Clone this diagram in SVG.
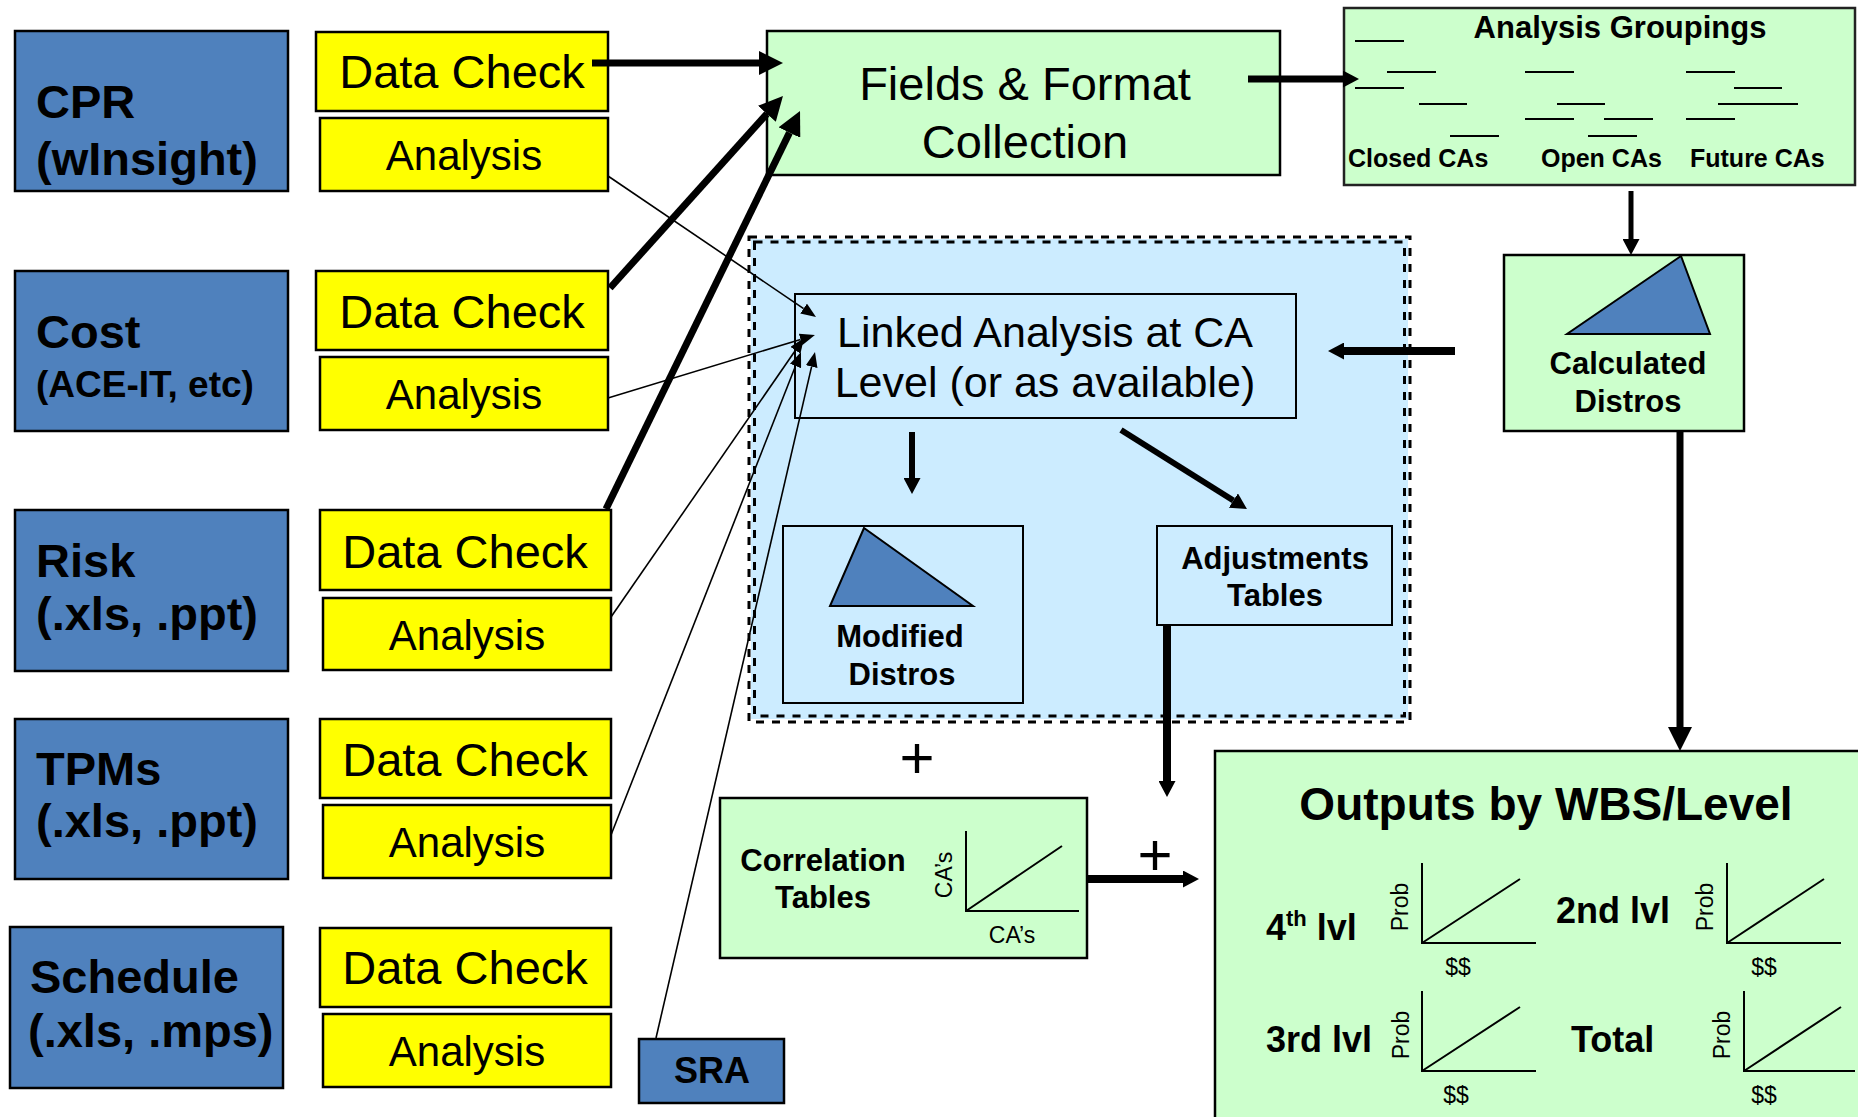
<svg xmlns="http://www.w3.org/2000/svg" width="1858" height="1117" viewBox="0 0 1858 1117">
  <style>
    text { font-family: "Liberation Sans", Arial, sans-serif; fill: #000; }
    .src rect { fill: #4F81BD; stroke: #000; stroke-width: 2.5; }
    .src text { font-weight: bold; font-size: 47px; }
    .chk rect { fill: #FFFF00; stroke: #000; stroke-width: 2.5; }
    .chk text { font-size: 47px; text-anchor: middle; }
    .ana text { font-size: 42px; }
    .green { fill: #CCFFCC; stroke: #000; stroke-width: 2.5; }
    .lblue { fill: #CCECFF; stroke: #000; stroke-width: 2; }
    .tri { fill: #4F81BD; stroke: #000; stroke-width: 2; }
    .bold30 { font-weight: bold; font-size: 31px; text-anchor: middle; }
    .axis { fill: none; stroke: #000; stroke-width: 2; }
    .axlbl { font-size: 23px; text-anchor: middle; }
    .lvl { font-weight: bold; font-size: 36px; }
    .dash { fill: none; stroke: #000; stroke-width: 3; stroke-dasharray: 8 8; }
    .thick { stroke: #000; fill: none; }
    .thin { stroke: #000; stroke-width: 1.6; fill: none; marker-end: url(#ah-sm); }
    .plus { font-size: 60px; text-anchor: middle; }
  </style>
  <defs>
    <marker id="ah-lg" markerUnits="userSpaceOnUse" markerWidth="24" markerHeight="24" refX="0" refY="12" orient="auto">
      <path d="M0,0 L24,12 L0,24 z" fill="#000"/>
    </marker>
    <marker id="ah-md" markerUnits="userSpaceOnUse" markerWidth="16" markerHeight="17" refX="0" refY="8.5" orient="auto">
      <path d="M0,0 L16,8.5 L0,17 z" fill="#000"/>
    </marker>
    <marker id="ah-sm" markerUnits="userSpaceOnUse" markerWidth="15" markerHeight="12" refX="0" refY="6" orient="auto">
      <path d="M0,0 L15,6 L0,12 z" fill="#000"/>
    </marker>
  </defs>

  <rect width="1858" height="1117" fill="#fff"/>

  <!-- Linked analysis zone: light blue panel with double dashed frame -->
  <g id="linked-zone">
    <rect x="751" y="239" width="657" height="480" fill="#CCECFF"/>
    <rect class="dash" x="749" y="237" width="661" height="485"/>
    <rect class="dash" x="754.5" y="242" width="650" height="474"/>
  </g>

  <!-- Source data blocks -->
  <g id="src-cpr" class="src">
    <rect x="15" y="31" width="273" height="160"/>
    <text x="36" y="118">CPR</text>
    <text x="36" y="175">(wInsight)</text>
  </g>
  <g id="src-cost" class="src">
    <rect x="15" y="271" width="273" height="160"/>
    <text x="36" y="348">Cost</text>
    <text x="36" y="397" style="font-size:37px">(ACE-IT, etc)</text>
  </g>
  <g id="src-risk" class="src">
    <rect x="15" y="510" width="273" height="161"/>
    <text x="36" y="577">Risk</text>
    <text x="36" y="630">(.xls, .ppt)</text>
  </g>
  <g id="src-tpms" class="src">
    <rect x="15" y="719" width="273" height="160"/>
    <text x="36" y="785">TPMs</text>
    <text x="36" y="837">(.xls, .ppt)</text>
  </g>
  <g id="src-schedule" class="src">
    <rect x="10" y="927" width="273" height="161"/>
    <text x="30" y="993">Schedule</text>
    <text x="28" y="1047">(.xls, .mps)</text>
  </g>
  <g id="src-sra" class="src">
    <rect x="639" y="1039" width="145" height="64"/>
    <text x="712" y="1083" style="font-size:36px" text-anchor="middle">SRA</text>
  </g>

  <!-- Data check / analysis steps -->
  <g id="chk-cpr" class="chk">
    <rect x="316" y="32" width="292" height="79"/>
    <text x="462" y="88">Data Check</text>
  </g>
  <g id="ana-cpr" class="chk ana">
    <rect x="320" y="118" width="288" height="73"/>
    <text x="464" y="170">Analysis</text>
  </g>
  <g id="chk-cost" class="chk">
    <rect x="316" y="271" width="292" height="79"/>
    <text x="462" y="328">Data Check</text>
  </g>
  <g id="ana-cost" class="chk ana">
    <rect x="320" y="357" width="288" height="73"/>
    <text x="464" y="409">Analysis</text>
  </g>
  <g id="chk-risk" class="chk">
    <rect x="320" y="510" width="291" height="80"/>
    <text x="465" y="568">Data Check</text>
  </g>
  <g id="ana-risk" class="chk ana">
    <rect x="323" y="598" width="288" height="72"/>
    <text x="467" y="650">Analysis</text>
  </g>
  <g id="chk-tpms" class="chk">
    <rect x="320" y="719" width="291" height="79"/>
    <text x="465" y="776">Data Check</text>
  </g>
  <g id="ana-tpms" class="chk ana">
    <rect x="323" y="805" width="288" height="73"/>
    <text x="467" y="857">Analysis</text>
  </g>
  <g id="chk-schedule" class="chk">
    <rect x="320" y="928" width="291" height="79"/>
    <text x="465" y="984">Data Check</text>
  </g>
  <g id="ana-schedule" class="chk ana">
    <rect x="323" y="1014" width="288" height="73"/>
    <text x="467" y="1066">Analysis</text>
  </g>

  <!-- Fields & Format Collection -->
  <g id="fields">
    <rect class="green" x="767" y="31" width="513" height="144"/>
    <text x="1025" y="100" font-size="47" text-anchor="middle">Fields &amp; Format</text>
    <text x="1025" y="158" font-size="47" text-anchor="middle">Collection</text>
  </g>

  <!-- Analysis Groupings -->
  <g id="groupings">
    <rect x="1344" y="8" width="511" height="177" fill="#CCFFCC" stroke="#222" stroke-width="2.5"/>
    <text x="1620" y="38" class="bold30">Analysis Groupings</text>
    <g stroke="#000" stroke-width="2">
      <line x1="1355" y1="41" x2="1404" y2="41"/>
      <line x1="1387" y1="72" x2="1436" y2="72"/>
      <line x1="1525" y1="72" x2="1574" y2="72"/>
      <line x1="1686" y1="72" x2="1735" y2="72"/>
      <line x1="1355" y1="88" x2="1404" y2="88"/>
      <line x1="1734" y1="88" x2="1782" y2="88"/>
      <line x1="1419" y1="104" x2="1467" y2="104"/>
      <line x1="1557" y1="104" x2="1605" y2="104"/>
      <line x1="1718" y1="104" x2="1766" y2="104"/>
      <line x1="1750" y1="104" x2="1798" y2="104"/>
      <line x1="1525" y1="119" x2="1574" y2="119"/>
      <line x1="1604" y1="119" x2="1653" y2="119"/>
      <line x1="1686" y1="119" x2="1735" y2="119"/>
      <line x1="1450" y1="136" x2="1499" y2="136"/>
      <line x1="1588" y1="136" x2="1637" y2="136"/>
    </g>
    <text x="1348" y="167" font-size="25" font-weight="bold">Closed CAs</text>
    <text x="1541" y="167" font-size="25" font-weight="bold">Open CAs</text>
    <text x="1690" y="167" font-size="25" font-weight="bold">Future CAs</text>
  </g>

  <!-- Calculated Distros -->
  <g id="calculated">
    <rect class="green" x="1504" y="255" width="240" height="176"/>
    <polygon class="tri" points="1681,256 1567,334 1710,334"/>
    <text x="1628" y="374" class="bold30">Calculated</text>
    <text x="1628" y="412" class="bold30">Distros</text>
  </g>

  <!-- Linked Analysis -->
  <g id="linked">
    <rect class="lblue" x="795" y="294" width="501" height="124"/>
    <text x="1045" y="347" font-size="43" text-anchor="middle">Linked Analysis at CA</text>
    <text x="1045" y="397" font-size="43" text-anchor="middle">Level (or as available)</text>
  </g>

  <!-- Modified Distros -->
  <g id="modified">
    <rect class="lblue" x="783" y="526" width="240" height="177"/>
    <polygon class="tri" points="864,528 830,606 973,606"/>
    <text x="900" y="647" class="bold30">Modified</text>
    <text x="902" y="685" class="bold30">Distros</text>
  </g>

  <!-- Adjustments Tables -->
  <g id="adjustments">
    <rect class="lblue" x="1157" y="526" width="235" height="99"/>
    <text x="1275" y="569" class="bold30">Adjustments</text>
    <text x="1275" y="606" class="bold30">Tables</text>
  </g>

  <!-- Correlation Tables -->
  <g id="correlation">
    <rect class="green" x="720" y="798" width="367" height="160"/>
    <text x="823" y="871" class="bold30">Correlation</text>
    <text x="823" y="908" class="bold30">Tables</text>
    <path class="axis" d="M966,831 V911 H1079 M966,911 L1062,846"/>
    <text class="axlbl" transform="translate(952,875) rotate(-90)">CA’s</text>
    <text class="axlbl" x="1012" y="943">CA’s</text>
  </g>

  <!-- Outputs by WBS/Level -->
  <g id="outputs">
    <rect class="green" x="1215" y="751" width="660" height="400"/>
    <text x="1546" y="820" font-size="46" font-weight="bold" text-anchor="middle">Outputs by WBS/Level</text>
    <text class="lvl" x="1266" y="940">4<tspan font-size="22" dy="-14">th</tspan><tspan dy="14"> lvl</tspan></text>
    <text class="lvl" x="1556" y="923">2nd lvl</text>
    <text class="lvl" x="1266" y="1052">3rd lvl</text>
    <text class="lvl" x="1571" y="1052">Total</text>
    <path class="axis" d="M1422,863 V943 H1536 M1422,943 L1520,879"/>
    <path class="axis" d="M1727,863 V943 H1841 M1727,943 L1824,879"/>
    <path class="axis" d="M1422,991 V1071 H1536 M1422,1071 L1520,1007"/>
    <path class="axis" d="M1744,991 V1071 H1855 M1744,1071 L1841,1007"/>
    <text class="axlbl" transform="translate(1408,907) rotate(-90)">Prob</text>
    <text class="axlbl" transform="translate(1713,907) rotate(-90)">Prob</text>
    <text class="axlbl" transform="translate(1409,1035) rotate(-90)">Prob</text>
    <text class="axlbl" transform="translate(1730,1035) rotate(-90)">Prob</text>
    <text class="axlbl" x="1458" y="975">$$</text>
    <text class="axlbl" x="1764" y="975">$$</text>
    <text class="axlbl" x="1456" y="1103">$$</text>
    <text class="axlbl" x="1764" y="1103">$$</text>
  </g>

  <!-- Plus signs -->
  <g id="plus-signs">
    <text class="plus" x="917" y="778">+</text>
    <text class="plus" x="1155" y="875">+</text>
  </g>

  <!-- Connectors -->
  <g id="connectors">
    <line class="thick" x1="592" y1="63" x2="759" y2="63" stroke-width="7" marker-end="url(#ah-lg)"/>
    <line class="thick" x1="610" y1="288" x2="766.9" y2="113.8" stroke-width="7" marker-end="url(#ah-lg)"/>
    <line class="thick" x1="606" y1="509" x2="789.5" y2="132.6" stroke-width="7" marker-end="url(#ah-lg)"/>
    <line class="thick" x1="1248" y1="79" x2="1343" y2="79" stroke-width="7" marker-end="url(#ah-md)"/>
    <line class="thick" x1="1631" y1="191" x2="1631" y2="239" stroke-width="5" marker-end="url(#ah-md)"/>
    <line class="thick" x1="1455" y1="351" x2="1344" y2="351" stroke-width="8" marker-end="url(#ah-md)"/>
    <line class="thick" x1="912" y1="432" x2="912" y2="478" stroke-width="6" marker-end="url(#ah-md)"/>
    <line class="thick" x1="1121" y1="430" x2="1233.4" y2="500.5" stroke-width="6" marker-end="url(#ah-md)"/>
    <line class="thick" x1="1167" y1="625" x2="1167" y2="781" stroke-width="8" marker-end="url(#ah-md)"/>
    <line class="thick" x1="1087" y1="879" x2="1183" y2="879" stroke-width="8" marker-end="url(#ah-md)"/>
    <line class="thick" x1="1680" y1="431" x2="1680" y2="727" stroke-width="7" marker-end="url(#ah-lg)"/>
    <line class="thin" x1="608" y1="176" x2="803.6" y2="308.6"/>
    <line class="thin" x1="608" y1="398" x2="800.6" y2="339.4"/>
    <line class="thin" x1="611" y1="617" x2="795.5" y2="350.3"/>
    <line class="thin" x1="611" y1="835" x2="795.5" y2="366"/>
    <line class="thin" x1="656" y1="1038" x2="811.6" y2="366.6"/>
  </g>
</svg>
